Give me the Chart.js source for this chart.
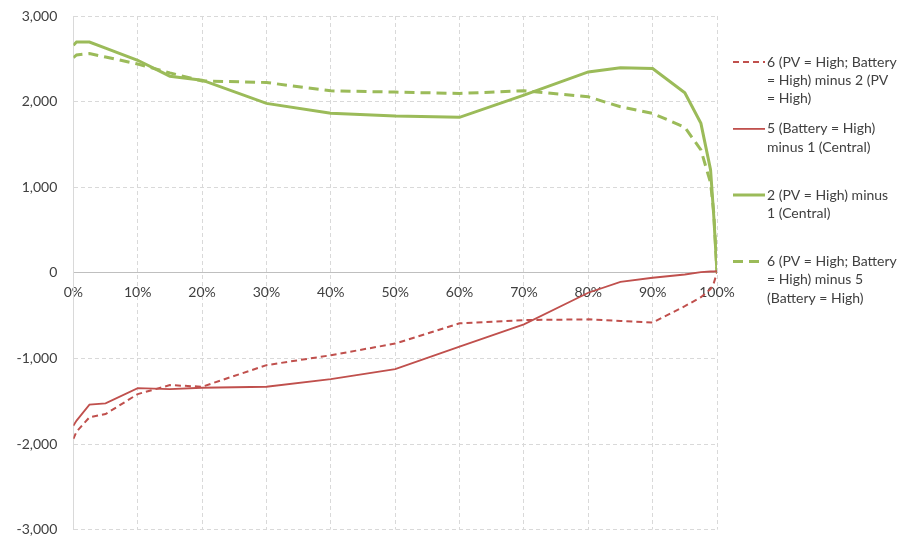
<!DOCTYPE html>
<html>
<head>
<meta charset="utf-8">
<title>Scenario differences</title>
<script src="https://cdn.jsdelivr.net/npm/chart.js@4.4.1/dist/chart.umd.min.js"></script>
<style>
  html, body { margin: 0; padding: 0; background: #ffffff; }
  #wrap { width: 906px; height: 539px; position: relative; }
</style>
</head>
<body>
<div id="wrap"><canvas id="diffChart"></canvas></div>
<script>
// share of hours (x, in %) shared by all four difference curves
const sharePct = [0, 0.5, 2.5, 5, 10, 15, 20, 30, 40, 50, 60, 70, 80, 85, 90, 95, 97.5, 99, 99.5, 100];

const pvBattMinusPv = [-1941, -1856, -1688, -1650, -1417, -1312, -1331, -1079, -963, -827, -590, -552, -544, -563, -582, -390, -285, -190, -120, 0];
const battMinusCentral = [-1786, -1727, -1541, -1525, -1347, -1358, -1343, -1331, -1242, -1126, -862, -602, -233, -105, -58, -20, 7, 15, 15, 20];
const pvMinusCentral = [2658, 2696, 2696, 2625, 2483, 2297, 2250, 1979, 1863, 1831, 1816, 2076, 2347, 2394, 2386, 2103, 1746, 1203, 659, 0];
const pvBattMinusBatt = [2515, 2545, 2561, 2521, 2440, 2335, 2242, 2223, 2126, 2111, 2095, 2126, 2056, 1940, 1862, 1700, 1435, 1051, 700, 0];

// legend text, already broken into lines
const seriesLabels = [
    ['6 (PV = High; Battery', '= High) minus 2 (PV', '= High)'],
    ['5 (Battery = High)', 'minus 1 (Central)'],
    ['2 (PV = High) minus', '1 (Central)'],
    ['6 (PV = High; Battery', '= High) minus 5', '(Battery = High)']
];

const RED = '#C0504D';
const GREEN = '#9BBB59';
const GRID = '#D9D9D9';
const TEXT = '#404040';
const FONT = 'Lato';

function toPoints(values) {
    return sharePct.map((x, i) => ({ x: x, y: values[i] }));
}

// legend drawn by hand so the entries can wrap like the original
const seriesKey = {
    id: 'seriesKey',
    afterDraw(chart, args, opts) {
        const ctx = chart.ctx;
        let y = opts.top;
        ctx.save();
        ctx.font = opts.fontSize + 'px ' + FONT;
        ctx.textBaseline = 'middle';
        ctx.textAlign = 'left';
        chart.data.datasets.forEach((ds, i) => {
            ctx.strokeStyle = ds.borderColor;
            ctx.lineWidth = ds.borderWidth;
            ctx.setLineDash(ds.borderDash || []);
            ctx.beginPath();
            ctx.moveTo(opts.x, y);
            ctx.lineTo(opts.x + opts.sample, y);
            ctx.stroke();
            ctx.fillStyle = TEXT;
            seriesLabels[i].forEach((line, j) => {
                ctx.fillText(line, opts.x + opts.sample + 2, y + j * opts.lineHeight);
            });
            y += seriesLabels[i].length * opts.lineHeight + opts.gaps[i];
        });
        ctx.restore();
    }
};

new Chart(document.getElementById('diffChart'), {
    type: 'line',
    data: {
        datasets: [{
            label: seriesLabels[0].join(' '),
            data: toPoints(pvBattMinusPv),
            borderColor: RED,
            borderWidth: 2,
            borderDash: [6, 4]
        }, {
            label: seriesLabels[1].join(' '),
            data: toPoints(battMinusCentral),
            borderColor: RED,
            borderWidth: 1.8
        }, {
            label: seriesLabels[2].join(' '),
            data: toPoints(pvMinusCentral),
            borderColor: GREEN,
            borderWidth: 3
        }, {
            label: seriesLabels[3].join(' '),
            data: toPoints(pvBattMinusBatt),
            borderColor: GREEN,
            borderWidth: 3,
            borderDash: [10, 6]
        }]
    },
    options: {
        responsive: true,
        maintainAspectRatio: false,
        animation: false,
        elements: {
            point: { radius: 0 },
            line: { tension: 0, fill: false }
        },
        layout: {
            // the x axis sits on y = 0, so the strip it reserves at the bottom is given back
            padding: { top: 16, left: 15.5, right: 189, bottom: -20 }
        },
        scales: {
            x: {
                type: 'linear',
                min: 0,
                max: 100,
                position: { y: 0 },
                ticks: {
                    stepSize: 10,
                    padding: 11,
                    color: TEXT,
                    font: { family: FONT, size: 14 },
                    callback: v => v + '%'
                },
                grid: { color: GRID, drawTicks: false },
                border: { color: '#BFBFBF', width: 1, dash: [4, 3] }
            },
            y: {
                min: -3000,
                max: 3000,
                ticks: {
                    stepSize: 1000,
                    padding: 1,
                    color: TEXT,
                    font: { family: FONT, size: 14 }
                },
                // invisible tick marks keep the labels clear of the axis
                grid: { color: GRID, tickLength: 15, tickColor: 'rgba(0,0,0,0)' },
                border: { color: GRID, width: 1, dash: [4, 3] }
            }
        },
        plugins: {
            legend: { display: false },
            tooltip: { enabled: false },
            seriesKey: {
                x: 733,
                top: 62,
                sample: 32,
                fontSize: 14,
                lineHeight: 18.3,
                gaps: [12, 29.5, 30, 0]
            }
        }
    },
    plugins: [seriesKey]
});
</script>
</body>
</html>
